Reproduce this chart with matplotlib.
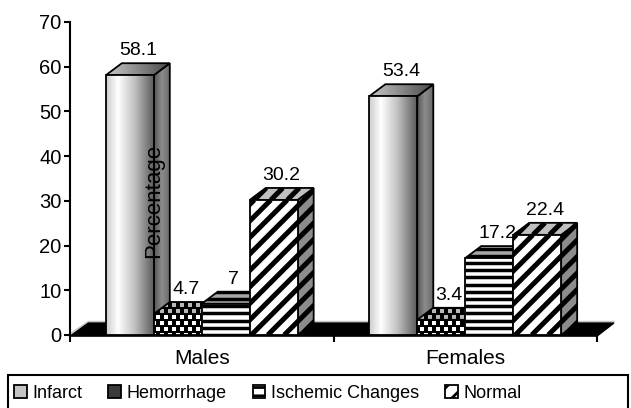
import matplotlib
matplotlib.use('Agg')
import matplotlib.pyplot as plt
import numpy as np
from matplotlib.patches import Polygon, Patch, Rectangle
from matplotlib.collections import LineCollection
from matplotlib.colors import LinearSegmentedColormap

plt.rcParams['font.family'] = ['Liberation Sans', 'DejaVu Sans']
plt.rcParams['hatch.linewidth'] = 2.0

# data
groups = ['Males', 'Females']
series = ['Infarct', 'Hemorrhage', 'Ischemic Changes', 'Normal']
infarct = [58.1, 53.4]
hemorrhage = [4.7, 3.4]
ischemic = [7, 17.2]
normal = [30.2, 22.4]
yticks = [0, 10, 20, 30, 40, 50, 60, 70]

values = [infarct, hemorrhage, ischemic, normal]

fig = plt.figure(figsize=(6.31, 4.08), dpi=100)
ax = fig.add_axes([70/631, 73/408, 527/631, 313/408])
ax.set_xlim(-0.5, 1.5)
ax.set_ylim(0, 70)

PX = 527/2.0      # pixels per x unit
PY = 313/70.0     # pixels per y unit
DX = 16/PX        # depth offset
DY = 12/PY
W = 0.182

front_grad = LinearSegmentedColormap.from_list('f', [(0, '#cccccc'), (0.25, '#ffffff'), (0.6, '#c0c0c0'), (1, '#5c5c5c')])
top_grad = LinearSegmentedColormap.from_list('t', ['#c8c8c8', '#8a8a8a', '#4a4a4a'])
side_grad = LinearSegmentedColormap.from_list('s', ['#555555', '#8c8c8c', '#6a6a6a'])


def pattern(poly, kind, ink, z):
    v = poly.get_xy()
    x0, x1 = v[:, 0].min() * PX, v[:, 0].max() * PX
    y0, y1 = v[:, 1].min() * PY, v[:, 1].max() * PY
    if kind == 'h':
        per = 7.2
        ks = np.arange(np.floor(y0 / per), np.ceil(y1 / per) + 1)
        segs = [[(x0 / PX, k * per / PY), (x1 / PX, k * per / PY)] for k in ks]
        lc = LineCollection(segs, colors=ink, linewidths=2.5, zorder=z, capstyle='butt')
        lc.set_clip_path(poly)
        ax.add_collection(lc)
    elif kind == 'd':
        per = 16.5
        ks = np.arange(np.floor((x0 - y1) / per) - 1, np.ceil((x1 - y0) / per) + 2)
        segs = [[((k * per + y0) / PX, y0 / PY), ((k * per + y1) / PX, y1 / PY)] for k in ks]
        lc = LineCollection(segs, colors=ink, linewidths=3.6, zorder=z, capstyle='butt')
        lc.set_clip_path(poly)
        ax.add_collection(lc)
    elif kind == 'c':
        rp, cp = 6.0, 8.0
        rows = np.arange(np.floor(y0 / rp) - 1, np.ceil(y1 / rp) + 2)
        xs, ys = [], []
        for r in rows:
            off = cp / 2 if int(r) % 2 else 0.0
            for c in np.arange(np.floor(x0 / cp) - 1, np.ceil(x1 / cp) + 2):
                xs.append((c * cp + off) / PX)
                ys.append(r * rp / PY)
        sc = ax.scatter(xs, ys, marker='s', s=8, c=ink, linewidths=0, zorder=z)
        sc.set_clip_path(poly)


def face(verts, fc, kind, ink, z):
    back = Polygon(verts, closed=True, facecolor='white' if isinstance(fc, LinearSegmentedColormap) else fc,
                   edgecolor='none', zorder=z)
    ax.add_patch(back)
    if isinstance(fc, LinearSegmentedColormap):
        xs = [p[0] for p in verts]
        ys = [p[1] for p in verts]
        im = ax.imshow(np.linspace(0, 1, 256).reshape(1, -1), cmap=fc, aspect='auto',
                       extent=(min(xs), max(xs), min(ys), max(ys)), zorder=z + 0.02,
                       interpolation='bilinear', origin='lower')
        im.set_clip_path(back)
    if kind:
        pattern(back, kind, ink, z + 0.05)
    ax.add_patch(Polygon(verts, closed=True, facecolor='none', edgecolor='black', lw=1.3,
                         zorder=z + 0.1, joinstyle='miter'))


# (front, top, side, pattern kind, pattern colour per face)
styles = [
    (front_grad, top_grad, side_grad, None, (None, None, None)),
    ('black', 'black', 'black', 'c', ('white', '#b8b8b8', '#8a8a8a')),
    ('white', '#a8a8a8', '#8c8c8c', 'h', ('black', 'black', 'black')),
    ('white', '#c0c0c0', '#8c8c8c', 'd', ('black', 'black', 'black')),
]


def bar3d(x0, h, st, z):
    fr, tp, sd, kind, inks = st
    x1 = x0 + W
    face([(x1, 0), (x1 + DX, DY), (x1 + DX, h + DY), (x1, h)], sd, kind, inks[2], z)
    face([(x0, h), (x1, h), (x1 + DX, h + DY), (x0 + DX, h + DY)], tp, kind, inks[1], z + 0.2)
    face([(x0, 0), (x1, 0), (x1, h), (x0, h)], fr, kind, inks[0], z + 0.4)


# floor
floor = Polygon([(-0.5, -0.25), (1.5, -0.25), (1.5 + DX * 1.06, DY), (-0.5 + DX * 1.15, DY)],
                closed=True, facecolor='black', edgecolor='black', lw=1, zorder=1, clip_on=False)
ax.add_patch(floor)
ax.plot([-0.5 + DX * 1.15, 1.5 + DX * 1.06], [DY + 0.35, DY + 0.35], color='#c8c8c8', lw=1, zorder=0.9, clip_on=False)
ax.plot([-0.5, -0.5 + DX * 1.15], [0.3, DY + 0.35], color='#c8c8c8', lw=1, zorder=0.9, clip_on=False)

z = 2
for g in range(len(groups)):
    for i in range(len(series)):
        x0 = g + (i - 2) * W
        v = values[i][g]
        bar3d(x0, v, styles[i], z)
        z += 1
        ax.text(x0 + W/2 + DX/2, v + DY + 0.9, '{:g}'.format(v), ha='center', va='bottom',
                fontsize=14, zorder=50)

ax.text(-0.184, 30, 'Percentage', rotation=90, ha='center', va='center', fontsize=16, zorder=60)

ax.set_xlim(-0.5, 1.5)
ax.set_ylim(0, 70)
ax.set_yticks(yticks)
ax.tick_params(axis='y', length=4, width=1.5, labelsize=14.5, pad=2, direction='out')
ax.set_xticks([0, 1])
ax.set_xticklabels(groups, fontsize=15)
ax.set_xticks([-0.5, 0.5, 1.5], minor=True)
ax.tick_params(axis='x', which='major', length=0, pad=10)
ax.tick_params(axis='x', which='minor', length=5, width=1.5, direction='out')
for s in ['top', 'right', 'bottom']:
    ax.spines[s].set_visible(False)
ax.spines['left'].set_linewidth(1.5)
ax.spines['left'].set_zorder(70)

# legend
handles = [
    Patch(facecolor='#c4c4c4', edgecolor='black', lw=1.3),
    Patch(facecolor='#3a3a3a', edgecolor='black', lw=1.3),
    Patch(facecolor='white', edgecolor='black', hatch='--', lw=1.3),
    Patch(facecolor='white', edgecolor='black', hatch='//', lw=1.3),
]
fig.legend(handles, series, loc='center left', bbox_to_anchor=(14/631, 15/408), ncol=4,
           frameon=False, fontsize=13, handlelength=0.7, handleheight=0.7,
           handletextpad=0.3, columnspacing=1.45, borderaxespad=0, borderpad=0)
fig.add_artist(Rectangle((8/631, -0.05), 620/631, 33/408 + 0.05, transform=fig.transFigure,
                         fill=False, edgecolor='black', lw=1.5))

fig.savefig('out.png', dpi=100)
